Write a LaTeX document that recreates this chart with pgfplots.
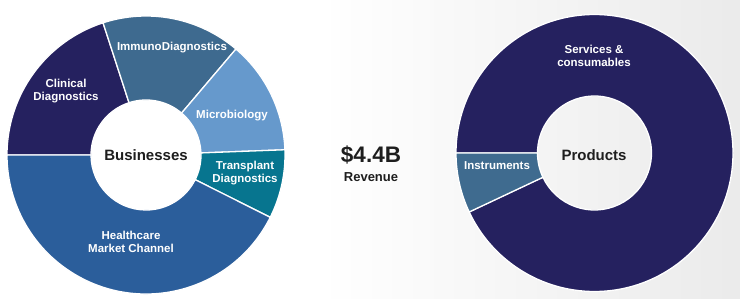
\documentclass[border=0pt]{standalone}
\usepackage{pgfplots}
\usepackage{pgfplotstable}
\pgfplotsset{compat=1.18}
\usepackage{fontspec}
\setmainfont{Liberation Sans}
\definecolor{cClin}{HTML}{25215F}
\definecolor{cImmu}{HTML}{3E6A8F}
\definecolor{cMicro}{HTML}{6699CC}
\definecolor{cTrans}{HTML}{07758F}
\definecolor{cHealth}{HTML}{2B5E9B}
\definecolor{cServ}{HTML}{25215F}
\definecolor{cInst}{HTML}{3F6B8F}
\definecolor{txt}{HTML}{1E1E1E}

\pgfplotstableread{
segment value color
Clinical 20.0 cClin
Immuno 16.2 cImmu
Micro 13.2 cMicro
Transplant 8.0 cTrans
Healthcare 42.6 cHealth
}\businesses
\pgfplotstableread{
segment value color
Services 93 cServ
Instruments 7 cInst
}\products

% #1 table, #2 cx, #3 cy, #4 outer radius, #5 inner radius
\newcommand{\donut}[5]{%
  \pgfplotstablegetrowsof{#1}%
  \pgfmathtruncatemacro{\nrows}{\pgfplotsretval-1}%
  \xdef\curang{180}%
  \foreach \i in {0,...,\nrows}{%
    \pgfplotstablegetelem{\i}{value}\of{#1}%
    \pgfmathsetmacro{\endang}{\curang-3.6*\pgfplotsretval}%
    \pgfplotstablegetelem{\i}{color}\of{#1}%
    \edef\segcol{\pgfplotsretval}%
    \begin{scope}[shift={(axis cs:#2,#3)}]
      \filldraw[fill=\segcol,draw=white,line width=1.3bp,line join=round]
        (\curang:#4) arc[start angle=\curang,end angle=\endang,radius=#4]
        -- (\endang:#5) arc[start angle=\endang,end angle=\curang,radius=#5] -- cycle;
    \end{scope}
    \xdef\curang{\endang}%
  }%
}

\begin{document}
\begin{tikzpicture}
\begin{axis}[
  width=740bp, height=298bp, scale only axis,
  xmin=0, xmax=740, ymin=0, ymax=298,
  hide axis, clip=false,
]
\fill[white] (axis cs:0,0) rectangle (axis cs:740,298);
\shade[left color=white, right color=black!8] (axis cs:320,0) rectangle (axis cs:740,298);
\coordinate (ll) at (axis cs:0,0);
\coordinate (ur) at (axis cs:740,298);
\pgfplotsextra{\donut{\businesses}{146}{143}{139bp}{55bp}}
\pgfplotsextra{\donut{\products}{594.5}{145}{138.5bp}{57bp}}

\begin{scope}[every node/.style={font=\fontsize{11.5bp}{13.5bp}\selectfont\bfseries, text=white, align=center, inner sep=0pt}]
\node at (axis cs:66,207) {Clinical\\Diagnostics};
\node at (axis cs:172,250) {ImmunoDiagnostics};
\node at (axis cs:232,182) {Microbiology};
\node at (axis cs:245,125) {Transplant\\Diagnostics};
\node at (axis cs:131,56) {Healthcare\\Market Channel};
\node at (axis cs:594,242) {Services \&\\consumables};
\node at (axis cs:497,132) {Instruments};
\end{scope}
\node[font=\fontsize{15bp}{18bp}\selectfont\bfseries, text=txt] at (axis cs:146,143) {Businesses};
\node[font=\fontsize{15bp}{18bp}\selectfont\bfseries, text=txt] at (axis cs:594,143) {Products};
\node[font=\fontsize{22.5bp}{26bp}\selectfont\bfseries, text=txt] at (axis cs:371,143) {\$4.4B};
\node[font=\fontsize{13bp}{15bp}\selectfont\bfseries, text=txt] at (axis cs:371,121) {Revenue};
\end{axis}
\pgfresetboundingbox
\useasboundingbox (ll) rectangle (ur);
\end{tikzpicture}
\end{document}
